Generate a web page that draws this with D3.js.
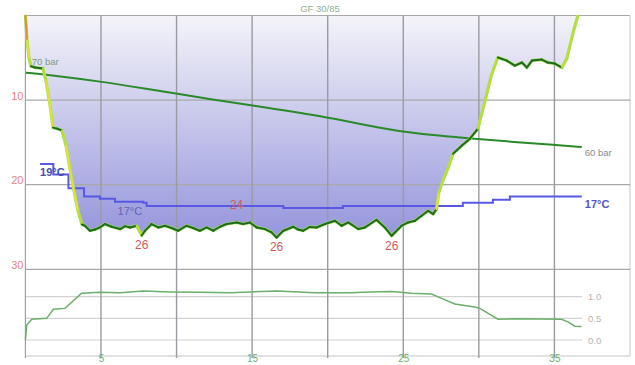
<!DOCTYPE html>
<html><head><meta charset="utf-8">
<script src="https://cdn.jsdelivr.net/npm/d3@7"></script>
<style>
html,body{margin:0;padding:0;background:#fff;}
svg{display:block;font-family:Arial,"Liberation Sans",sans-serif;}
</style></head>
<body>
<svg id="chart" width="635" height="365"></svg>
<script>
// ---------- DATA ----------
const title = "GF 30/85";
const timeTicks = [5, 15, 25, 35];
const timeGrid = [5, 10, 15, 20, 25, 30, 35];
const depthTicks = [10, 20, 30];
const ppo2Ticks = [0, 0.5, 1.0];

// dive profile: [minutes, metres]
const depthProfile = [
  [0,0],[0.11,2.96],[0.24,5.1],[0.37,6.0],[0.63,6.15],[1.16,6.27],[1.36,7.7],[1.63,10.65],
  [1.83,13.25],[2.09,13.37],[2.42,13.6],[2.69,15.4],[3.08,19.5],[3.48,23.1],[3.74,24.7],
  [3.94,24.85],[4.27,25.44],[4.6,25.3],[4.93,25.05],[5.26,24.65],[5.71,24.97],[6.26,25.24],
  [6.6,24.9],[6.92,25.05],[7.36,24.85],[7.69,26.0],[7.91,25.44],[8.35,24.65],[8.79,25.05],
  [9.23,24.85],[9.68,25.12],[10.11,25.44],[10.67,24.85],[11.1,25.12],[11.55,25.44],
  [11.99,25.05],[12.43,25.44],[12.87,24.97],[13.31,24.65],[13.97,24.46],[14.41,24.65],
  [14.85,24.46],[15.3,25.05],[15.85,25.24],[16.29,25.63],[16.62,26.24],[17.06,25.44],
  [17.72,24.97],[18.05,25.3],[18.38,25.44],[18.8,25.0],[19.27,25.05],[19.82,24.65],
  [20.48,24.26],[20.92,24.85],[21.36,24.46],[22.02,25.24],[22.46,25.05],[23.23,24.14],
  [23.78,25.05],[24.23,26.04],[24.89,24.85],[25.32,24.46],[25.77,24.26],[26.21,23.67],
  [26.65,23.08],[26.98,23.47],[27.2,22.88],[27.35,20.95],[27.62,19.53],[27.95,18.1],
  [28.29,16.33],[28.88,15.38],[29.41,14.56],[29.94,13.37],[30.53,9.23],[30.86,6.86],
  [31.26,4.97],[31.85,5.33],[32.38,5.92],[32.85,5.56],[33.18,6.15],[33.51,5.33],
  [34.17,5.21],[34.56,5.56],[35.03,5.68],[35.49,6.15],[35.82,5.09],[36.22,2.13],[36.55,0]
];
const depthLabels = [
  {t:7.69, d:26.0, text:"26", pos:"below"},
  {t:13.97, d:24.46, text:"24", pos:"above"},
  {t:16.62, d:26.24, text:"26", pos:"below"},
  {t:24.23, d:26.04, text:"26", pos:"below"}
];

// tank pressure: [minutes, bar]
const pressure = [
  [0.02,170],[1.63,166.6],[4.93,157.2],[8.24,145.4],[10.03,139.0],[12.01,131.6],
  [15.0,121.7],[19.48,106.4],[23.6,87.2],[25.77,79.8],[29.41,72.8],[32.38,67.4],
  [35.03,63.0],[36.81,60.0]
];
const pressureStartLabel = "70 bar";
const pressureEndLabel = "60 bar";

// water temperature: [minutes, °C]
const temperature = [
  [0.97,19.0],[1.85,18.5],[2.85,17.85],[3.88,17.45],[4.93,17.35],[5.93,17.2],[7.8,17.15],
  [8.02,17.0],[17.06,16.9],[21.0,17.0],[28.94,17.15],[30.93,17.3],[32.05,17.45],[36.81,17.45]
];
const tempStartLabel = "19°C";
const tempMinLabel = "17°C";
const tempEndLabel = "17°C";

// ppO2: [minutes, bar]
const ppo2 = [
  [0,0.0],[0.09,0.35],[0.42,0.48],[1.41,0.50],[1.85,0.71],[2.62,0.73],[3.72,1.08],
  [4.93,1.10],[6.26,1.09],[7.78,1.13],[9.56,1.11],[11.55,1.10],[13.53,1.09],[14.85,1.11],
  [16.62,1.13],[18.1,1.11],[19.15,1.09],[21.47,1.09],[22.79,1.11],[24.23,1.12],[25.55,1.08],
  [26.87,1.06],[27.53,0.96],[28.41,0.83],[29.73,0.76],[30.07,0.73],[31.26,0.48],[32.38,0.49],
  [35.47,0.48],[35.89,0.42],[36.35,0.32],[36.79,0.31]
];

// ---------- LAYOUT ----------
const L = 25.4, R = 630, TOP = 15.5, MAINBOT = 269.3, BOT = 356;
const x = d3.scaleLinear().domain([0, 40]).range([L, R]);
const y = d3.scaleLinear().domain([0, 30]).range([TOP, MAINBOT]);
const pY = d3.scaleLinear().domain([170, 60]).range([72.7, 147]);
const tY = d3.scaleLinear().domain([19, 17]).range([164, 206]);
const oY = d3.scaleLinear().domain([0, 1]).range([340, 296.7]);

const svg = d3.select("#chart");
const defs = svg.append("defs");
const grad = defs.append("linearGradient").attr("id","fillGrad")
  .attr("gradientUnits","userSpaceOnUse").attr("x1",0).attr("x2",0).attr("y1",TOP).attr("y2",y(26.5));
grad.append("stop").attr("offset","0%").attr("stop-color","#f4f4f9");
grad.append("stop").attr("offset","100%").attr("stop-color","#9494dc");

// area fill
svg.append("path").datum(depthProfile)
  .attr("d", d3.area().x(d=>x(d[0])).y0(y(0)).y1(d=>y(d[1])))
  .attr("fill","url(#fillGrad)");

// frame lines
svg.append("line").attr("x1",L).attr("x2",R).attr("y1",TOP).attr("y2",TOP).attr("stroke","#a8a8a8").attr("stroke-width",1.2);
svg.append("line").attr("x1",R).attr("x2",R).attr("y1",TOP).attr("y2",BOT).attr("stroke","#d0d0d0").attr("stroke-width",1.2);
svg.append("line").attr("x1",L).attr("x2",R).attr("y1",BOT).attr("y2",BOT).attr("stroke","#c4c4c4").attr("stroke-width",1.2);

// horizontal depth grid
svg.append("g").selectAll("line").data(depthTicks).join("line")
  .attr("x1",L).attr("x2",R).attr("y1",d=>y(d)).attr("y2",d=>y(d))
  .attr("stroke","#a8a8a8").attr("stroke-width",1.2);

// ppO2 grid
svg.append("g").selectAll("line").data(ppo2Ticks).join("line")
  .attr("x1",L).attr("x2",582).attr("y1",d=>oY(d)).attr("y2",d=>oY(d))
  .attr("stroke","#d2d2d2").attr("stroke-width",1.2);

// vertical time grid
svg.append("g").selectAll("line").data(timeGrid).join("line")
  .attr("x1",d=>x(d)).attr("x2",d=>x(d)).attr("y1",TOP).attr("y2",BOT+2)
  .attr("stroke","#9a9aa2").attr("stroke-width",1.4);
svg.append("line").attr("x1",L).attr("x2",L).attr("y1",TOP).attr("y2",BOT+2).attr("stroke","#a0a0a0").attr("stroke-width",1.2);

// title
svg.append("text").attr("x",320).attr("y",12).attr("text-anchor","middle")
  .attr("font-size",9.5).attr("fill","#8fae8f").text(title);

// axes labels
const xAxis = svg.append("g").attr("transform",`translate(0,${BOT})`)
  .call(d3.axisBottom(x).tickValues(timeTicks).tickSize(0).tickPadding(0));
xAxis.select(".domain").remove();
xAxis.selectAll("text").attr("fill","#6fb06f").attr("font-size",10).attr("dy","0.62em");

const yAxis = svg.append("g").attr("transform",`translate(${L-1},0)`)
  .call(d3.axisLeft(y).tickValues(depthTicks).tickSize(0).tickPadding(1));
yAxis.select(".domain").remove();
yAxis.selectAll("text").attr("fill","#e58383").attr("font-size",11).attr("dy","-0.1em");

const oAxis = svg.append("g").attr("transform",`translate(585,0)`)
  .call(d3.axisRight(oY).tickValues(ppo2Ticks).tickFormat(d3.format(".1f")).tickSize(0).tickPadding(3));
oAxis.select(".domain").remove();
oAxis.selectAll("text").attr("fill","#b4b4b4").attr("font-size",9.5);

// ppO2 line
svg.append("path").datum(ppo2)
  .attr("d", d3.line().x(d=>x(d[0])).y(d=>oY(d[1])))
  .attr("fill","none").attr("stroke","#6cae6c").attr("stroke-width",1.5);

// pressure line
svg.append("path").datum(pressure)
  .attr("d", d3.line().curve(d3.curveBasis).x(d=>x(d[0])).y(d=>pY(d[1])))
  .attr("fill","none").attr("stroke","#2a8a2a").attr("stroke-width",2);
svg.append("text").attr("x",x(pressure[0][0])+6).attr("y",pY(pressure[0][1])-8)
  .attr("font-size",9.5).attr("fill","#7f9a7f").text(pressureStartLabel);
svg.append("text").attr("x",x(pressure[pressure.length-1][0])+3).attr("y",pY(pressure[pressure.length-1][1])+9)
  .attr("font-size",9.5).attr("fill","#8a8a8a").text(pressureEndLabel);

// temperature line
svg.append("path").datum(temperature)
  .attr("d", d3.line().curve(d3.curveStepAfter).x(d=>x(d[0])).y(d=>tY(d[1])))
  .attr("fill","none").attr("stroke","#5858e4").attr("stroke-width",2);
svg.append("text").attr("x",x(temperature[0][0])).attr("y",tY(19)+12)
  .attr("font-size",11).attr("font-weight","bold").attr("fill","#4a4ab4").text(tempStartLabel);
svg.append("text").attr("x",x(6.1)).attr("y",tY(17.0)+9)
  .attr("font-size",11).attr("fill","#6262b6").text(tempMinLabel);
svg.append("text").attr("x",x(temperature[temperature.length-1][0])+3).attr("y",tY(17.45)+11)
  .attr("font-size",11).attr("font-weight","bold").attr("fill","#5454c8").text(tempEndLabel);

// depth profile: halo + rate-coloured segments
svg.append("path").datum(depthProfile)
  .attr("d", d3.line().x(d=>x(d[0])).y(d=>y(d[1])))
  .attr("fill","none").attr("stroke","#a4e060").attr("stroke-width",3.2).attr("stroke-linejoin","round");
function rateColor(r){
  if (r < 3) return "#1e6a1e";
  if (r < 9) return "#c0dc34";
  if (r < 20) return "#e6e030";
  return "#e09030";
}
const segs = d3.pairs(depthProfile);
svg.append("g").selectAll("line").data(segs).join("line")
  .attr("x1",d=>x(d[0][0])).attr("y1",d=>y(d[0][1]))
  .attr("x2",d=>x(d[1][0])).attr("y2",d=>y(d[1][1]))
  .attr("stroke",d=>rateColor(Math.abs(d[1][1]-d[0][1])/(d[1][0]-d[0][0])))
  .attr("stroke-width",2).attr("stroke-linecap","round");

// depth annotations
svg.append("g").selectAll("text").data(depthLabels).join("text")
  .attr("x",d=>x(d.t)).attr("y",d=>d.pos==="below" ? y(d.d)+14 : y(d.d)-13)
  .attr("text-anchor","middle").attr("font-size",12).attr("fill","#d25a5a").text(d=>d.text);
</script>
</body></html>
